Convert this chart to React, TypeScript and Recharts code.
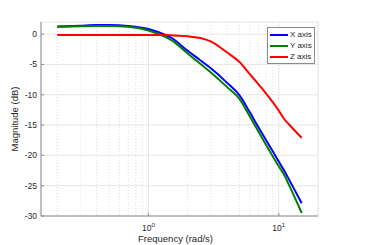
import {
  LineChart,
  Line,
  XAxis,
  YAxis,
  CartesianGrid,
  Legend,
} from "recharts";

/** Frequencies (rad/s) where the magnitudes were read. */
const FREQ = [0.2, 0.3, 0.4, 0.5, 0.7, 1, 1.2, 1.5, 2, 2.5, 3, 4, 5, 6, 7, 8, 10, 11, 12, 15];

/** Magnitude (dB) per axis. */
const X_AXIS = [1.25, 1.4, 1.5, 1.5, 1.35, 0.85, 0.3, -0.6, -2.75, -4.3, -5.6, -8.0, -10.1, -12.9, -15.4, -17.5, -21.0, -22.5, -24.0, -27.9];
const Y_AXIS = [1.2, 1.3, 1.35, 1.35, 1.2, 0.6, 0.0, -1.0, -3.2, -4.9, -6.3, -8.7, -10.7, -13.6, -16.1, -18.3, -21.8, -23.2, -24.9, -29.5];
const Z_AXIS = [-0.15, -0.15, -0.15, -0.15, -0.15, -0.15, -0.15, -0.2, -0.35, -0.65, -1.2, -3.0, -4.6, -6.6, -8.3, -9.8, -12.6, -14.0, -14.9, -17.1];

const X_TICKS = [1, 10];
const X_MINOR = [0.2, 0.3, 0.4, 0.5, 0.6, 0.7, 0.8, 0.9, 2, 3, 4, 5, 6, 7, 8, 9, 20];
const Y_TICKS = [-30, -25, -20, -15, -10, -5, 0];

const FONT = "'Liberation Sans', Arial, Helvetica, sans-serif";
const TEXT = "#262626";
const AXIS = "#8c8c8c";

const data = FREQ.map((freq, i) => ({
  freq,
  x: X_AXIS[i],
  y: Y_AXIS[i],
  z: Z_AXIS[i],
}));

/** "10^n" tick label with a superscript exponent. */
function PowerTick({ x, y, payload }: { x: number; y: number; payload: { value: number } }) {
  const exp = Math.round(Math.log10(payload.value));
  return (
    <text x={x} y={y} dy={10} textAnchor="middle" fontSize={8.5} fill={TEXT} fontFamily={FONT}>
      <tspan>10</tspan>
      <tspan dy={-4} fontSize={6}>{exp}</tspan>
    </text>
  );
}

function LegendBox({ payload }: { payload?: Array<{ value: string; color: string }> }) {
  return (
    <div
      style={{
        border: `1px solid ${AXIS}`,
        background: "#fff",
        padding: "1px 2px 1px 2px",
        fontFamily: FONT,
        fontSize: 8,
        color: TEXT,
      }}
    >
      {(payload ?? []).map((p) => (
        <div key={p.value} style={{ display: "flex", alignItems: "center", height: 11 }}>
          <svg width={18} height={4} style={{ marginRight: 2 }}>
            <line x1={0} y1={2} x2={18} y2={2} stroke={p.color} strokeWidth={2} />
          </svg>
          <span>{p.value}</span>
        </div>
      ))}
    </div>
  );
}

export default function App() {
  const minorX = ({ xAxis }: any) =>
    X_MINOR.map((v) => {
      const s = xAxis.scale;
      return typeof s === "function" ? s(v) : s.map(v);
    });

  // shared settings for the log frequency axes
  const logAxis = {
    dataKey: "freq",
    type: "number" as const,
    scale: "log" as const,
    domain: [0.15, 20],
    allowDataOverflow: true,
    stroke: AXIS,
  };

  return (
    <div style={{ width: 367, height: 245, background: "#fff" }}>
      <style>{"body{margin:0}"}</style>
      <LineChart
        width={367}
        height={245}
        data={data}
        margin={{ top: 22, right: 49, bottom: 0, left: 0 }}
      >
        <CartesianGrid stroke="#e6e6e6" />
        <CartesianGrid
          horizontal={false}
          stroke="#e0e0e0"
          strokeDasharray="1 2"
          verticalCoordinatesGenerator={minorX}
        />
        {/* minor tick marks, bottom and top */}
        <XAxis {...logAxis} xAxisId="minorBottom" ticks={X_MINOR} height={0} tickSize={-2} tick={false} axisLine={false} />
        <XAxis {...logAxis} xAxisId="minorTop" orientation="top" ticks={X_MINOR} height={0} tickSize={-2} tick={false} axisLine={false} />
        <XAxis
          {...logAxis}
          ticks={X_TICKS}
          height={29}
          tickSize={-3}
          tickMargin={8}
          tick={(props: any) => <PowerTick {...props} />}
          label={{
            value: "Frequency (rad/s)",
            position: "insideBottom",
            offset: 3,
            dx: -4,
            fontSize: 9.5,
            fill: TEXT,
            fontFamily: FONT,
          }}
        />
        <XAxis {...logAxis} xAxisId="top" orientation="top" ticks={X_TICKS} height={0} tickSize={-3} tick={false} />
        <YAxis
          type="number"
          domain={[-30, 2]}
          ticks={Y_TICKS}
          width={41}
          tickSize={-3}
          tickMargin={7}
          stroke={AXIS}
          tick={{ fontSize: 8.5, fill: TEXT, fontFamily: FONT }}
          label={{
            value: "Magnitude (dB)",
            angle: -90,
            position: "insideLeft",
            offset: 15,
            fontSize: 9.5,
            fill: TEXT,
            fontFamily: FONT,
            style: { textAnchor: "middle" },
          }}
        />
        <YAxis
          yAxisId="right"
          orientation="right"
          type="number"
          domain={[-30, 2]}
          ticks={Y_TICKS}
          width={0}
          tickSize={-3}
          tick={false}
          stroke={AXIS}
        />
        <Legend
          layout="vertical"
          align="center"
          verticalAlign="middle"
          content={<LegendBox />}
          wrapperStyle={{ top: 27, left: 267, width: "auto" }}
        />
        <Line type="monotone" dataKey="x" name="X axis" stroke="#0000ff" strokeWidth={2} dot={false} isAnimationActive={false} />
        <Line type="monotone" dataKey="y" name="Y axis" stroke="#008000" strokeWidth={2} dot={false} isAnimationActive={false} />
        <Line type="monotone" dataKey="z" name="Z axis" stroke="#ff0000" strokeWidth={2} dot={false} isAnimationActive={false} />
      </LineChart>
    </div>
  );
}
